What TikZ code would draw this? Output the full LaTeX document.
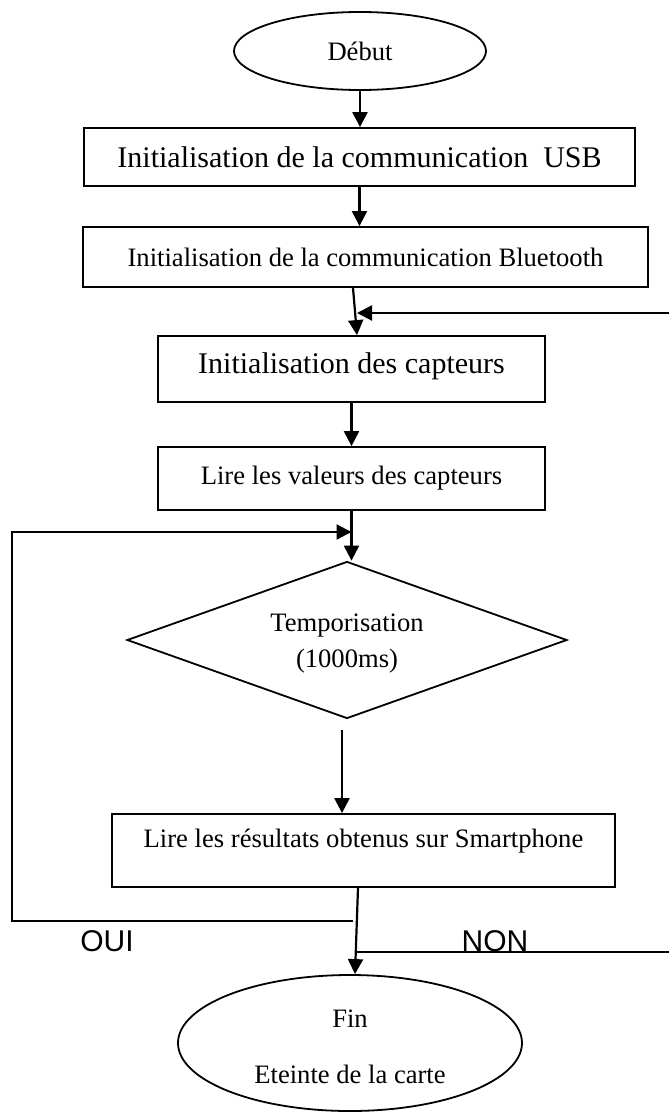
\documentclass[tikz,border=0pt]{standalone}
\usepackage{fontspec}
\setmainfont{Liberation Serif}
\newfontfamily\arialf{Liberation Sans}
\usetikzlibrary{shapes.geometric,arrows.meta,calc}
\begin{document}
\begin{tikzpicture}[x=1pt,y=-1pt,
  box/.style={draw, line width=1.8pt, rectangle, inner sep=0pt},
  smallf/.style={font=\fontsize{26.6}{32}\selectfont},
  bigf/.style={font=\fontsize{30}{36}\selectfont},
  lblf/.style={font=\arialf\fontsize{30}{36}\selectfont},
  arr/.style={line width=2.2pt, -{Triangle[width=15pt,length=15pt]}},
  ln/.style={line width=2pt}]
\useasboundingbox (0,0) rectangle (669,1113);

% nodes
\node[draw, ellipse, line width=1.8pt, minimum width=252pt, minimum height=78pt, inner sep=0pt, smallf] (debut) at (360,51) {Début};
\node[box, minimum width=551pt, minimum height=58pt, bigf] (usb) at (359.5,157) {Initialisation de la communication\ \ USB\hspace{37pt}};
\node[box, minimum width=565pt, minimum height=60pt, smallf] (bt) at (365.5,257) {Initialisation de la communication Bluetooth};
\node[box, minimum width=387pt, minimum height=66pt, bigf] (cap) at (351.5,369) {\raisebox{3pt}[\height][\depth]{Initialisation des capteurs}};
\node[box, minimum width=387pt, minimum height=63pt, smallf] (lire) at (351.5,478.5) {Lire les valeurs des capteurs};
\node[draw, diamond, aspect=2.8, line width=1.8pt, minimum width=440pt, minimum height=157pt, inner sep=0pt, smallf] (tempo) at (347,640) {\raisebox{-3pt}[\height][\depth]{\begin{tabular}{@{}c@{}}Temporisation\\[4pt](1000ms)\end{tabular}}};
\node[box, minimum width=503pt, minimum height=73pt, smallf] (res) at (363.5,850.5) {\raisebox{9pt}[\height][\depth]{Lire les résultats obtenus sur Smartphone}};
\node[draw, ellipse, line width=1.8pt, minimum width=344pt, minimum height=136pt, inner sep=0pt, smallf] (fin) at (350,1043) {\raisebox{-6pt}[\height][\depth]{\begin{tabular}{@{}c@{}}Fin\\[24pt]Eteinte de la carte\end{tabular}}};

% labels
\node[anchor=base, lblf, inner sep=0pt] (oui) at (107,951) {OUI};
\node[anchor=base, lblf, inner sep=0pt] (non) at (495,951) {NON};

% coordinates for free ends
\coordinate (rin) at (669,313);
\coordinate (rend) at (357,313);
\coordinate (ouiR) at (353,921);
\coordinate (lcorner) at (12,921);
\coordinate (loopEnd) at (351.5,532);
\coordinate (tgap) at (342,730);
\coordinate (nonL) at (356,952);
\coordinate (nonR) at (669,952);

% connectors
\draw[arr] (debut.south) -- (debut.south |- usb.north);
\draw[arr] (usb.south) -- (usb.south |- bt.north);
\draw[arr] ($(bt.south)+(-12.5,0)$) -- ($(cap.north)+(5.5,0)$);
\draw[arr] (rin) -- (rend);
\draw[arr] (cap.south) -- (lire.north);
\draw[arr] (lire.south) -- (lire.south |- tempo.north);
\draw[arr] (ouiR) -- (lcorner) |- (loopEnd);
\draw[arr] (tgap) -- (tgap |- res.north);
\draw[arr] ($(res.south)+(-5.5,0)$) -- ($(fin.north)+(5,0)$);
\draw[ln] (nonL) -- (nonR);
\end{tikzpicture}
\end{document}
